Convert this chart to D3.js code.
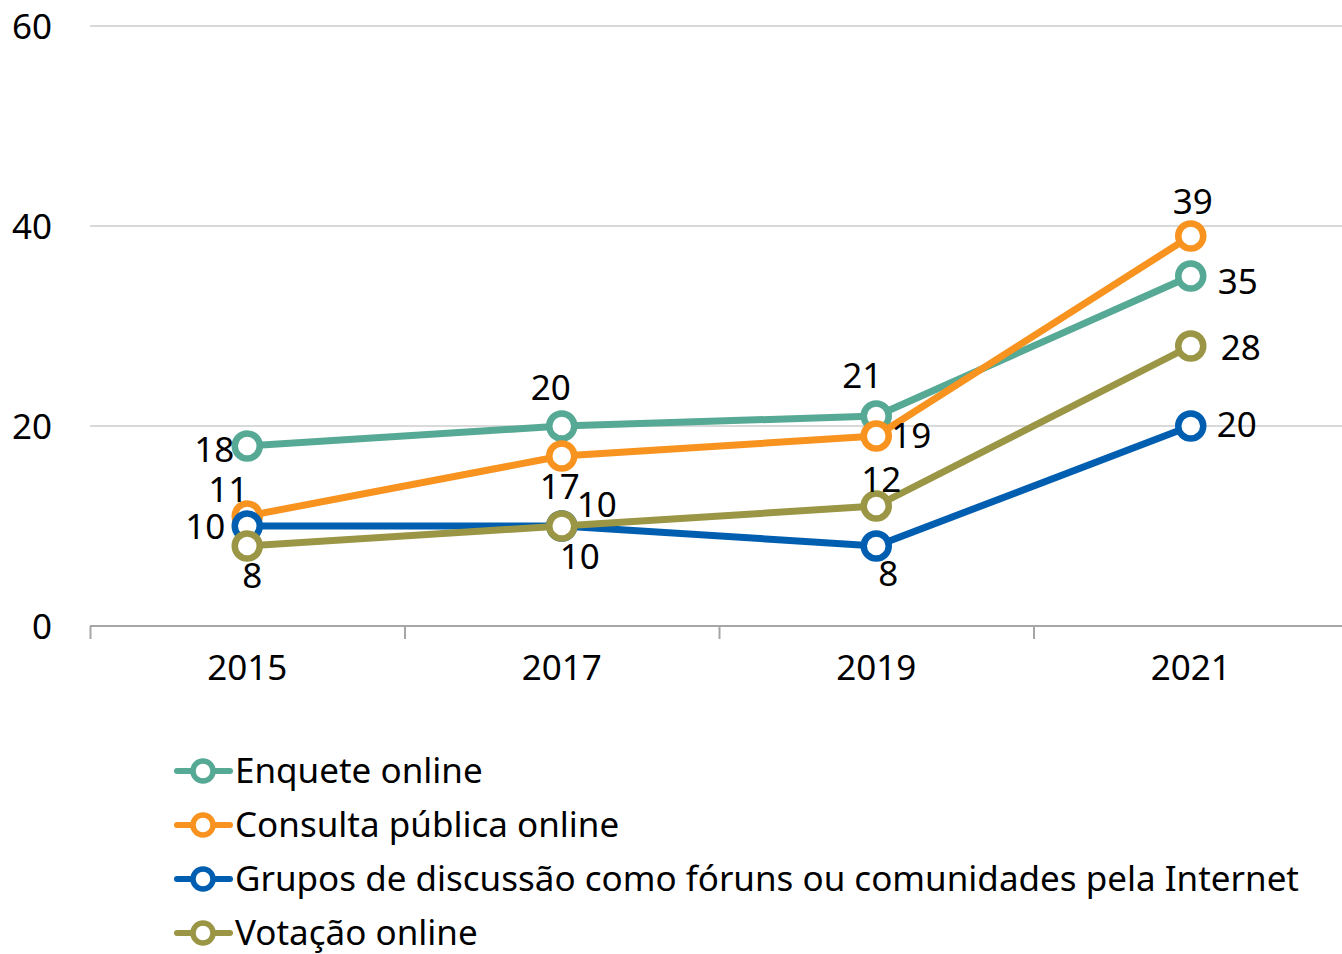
<!DOCTYPE html>
<html>
<head>
<meta charset="utf-8">
<script src="https://cdn.jsdelivr.net/npm/d3@7"></script>
<style>
    body { margin: 0; background: #fff; }
    text { font-family: "Noto Sans", "Open Sans", sans-serif; fill: #000; }
</style>
</head>
<body>
<svg id="canvas"></svg>
<script>
const YEARS = ["2015", "2017", "2019", "2021"];
const SERIES_NAMES = [
    "Enquete online",
    "Consulta pública online",
    "Grupos de discussão como fóruns ou comunidades pela Internet",
    "Votação online"
];
const ENQUETE = [18, 20, 21, 35];
const CONSULTA = [11, 17, 19, 39];
const GRUPOS = [10, 10, 8, 20];
const VOTACAO = [8, 10, 12, 28];
const Y_TICKS = [0, 20, 40, 60];

const COLORS = ["#56a994", "#f7931e", "#005eb0", "#9b9645"];

// label offsets from each point (centre of text)
const LABEL_OFFSETS = [
    [[-33, 4], [-11, -38], [-14, -40], [47, 6]],
    [[-19, -26], [-2, 31], [35, 0], [2, -34]],
    [[-42, 1], [18, 31], [12, 28], [46, -1]],
    [[5, 30], [35, -21], [5, -26], [50, 2]]
];

const width = 1342;
const height = 954;

const series = [ENQUETE, CONSULTA, GRUPOS, VOTACAO].map((values, i) => ({
    name: SERIES_NAMES[i],
    color: COLORS[i],
    values: values,
    offsets: LABEL_OFFSETS[i]
}));

const canvas = d3.select("#canvas")
    .attr("width", width)
    .attr("height", height);

const xScale = d3.scaleBand()
    .domain(YEARS)
    .range([90, 1348]);
const yScale = d3.scaleLinear()
    .domain([0, 60])
    .range([626, 26]);

//Gridlines
canvas.append("g")
    .selectAll("line")
    .data(Y_TICKS.filter(t => t > 0))
    .enter()
    .append("line")
    .attr("x1", 90)
    .attr("x2", width)
    .attr("y1", d => yScale(d))
    .attr("y2", d => yScale(d))
    .attr("stroke", "#d9d9d9")
    .attr("stroke-width", 2);

//Y axis labels
const yAxis = d3.axisLeft(yScale)
    .tickValues(Y_TICKS)
    .tickSize(0)
    .tickPadding(0);
const yAxisG = canvas.append("g")
    .attr("transform", "translate(52, 0)")
    .call(yAxis);
yAxisG.select(".domain").remove();
yAxisG.selectAll("text")
    .style("font-size", "35px")
    .attr("dy", "0.35em");

//X axis
const xAxis = d3.axisBottom(xScale)
    .tickSize(0)
    .tickPadding(29);
const xAxisG = canvas.append("g")
    .attr("transform", `translate(0, ${yScale(0)})`)
    .call(xAxis);
xAxisG.select(".domain").remove();
xAxisG.selectAll("text")
    .style("font-size", "35px");

xAxisG.append("line")
    .attr("x1", 90)
    .attr("x2", 1342)
    .attr("stroke", "#a6a6a6")
    .attr("stroke-width", 2);
const bw = xScale.bandwidth();
xAxisG.selectAll(".sep")
    .data(YEARS)
    .enter()
    .append("line")
    .attr("class", "sep")
    .attr("x1", d => xScale(d) + 0.5)
    .attr("x2", d => xScale(d) + 0.5)
    .attr("y1", 0)
    .attr("y2", 13)
    .attr("stroke", "#a6a6a6")
    .attr("stroke-width", 2);

const xPos = i => xScale(YEARS[i]) + bw / 2;

const line = d3.line()
    .x((d, i) => xPos(i))
    .y(d => yScale(d));

//Lines and markers
const groups = canvas.selectAll(".series")
    .data(series)
    .enter()
    .append("g")
    .attr("class", "series");

groups.append("path")
    .attr("d", d => line(d.values))
    .attr("fill", "none")
    .attr("stroke", d => d.color)
    .attr("stroke-width", 7)
    .attr("stroke-linejoin", "round");

groups.selectAll("circle")
    .data(d => d.values.map(v => ({ v: v, color: d.color })))
    .enter()
    .append("circle")
    .attr("cx", (d, i) => xPos(i))
    .attr("cy", d => yScale(d.v))
    .attr("r", 12.5)
    .attr("fill", "#fff")
    .attr("stroke", d => d.color)
    .attr("stroke-width", 6.5);

//Data labels
canvas.selectAll(".labels")
    .data(series)
    .enter()
    .append("g")
    .selectAll("text")
    .data(d => d.values.map((v, i) => ({ v: v, off: d.offsets[i] })))
    .enter()
    .append("text")
    .attr("x", (d, i) => xPos(i) + d.off[0])
    .attr("y", d => yScale(d.v) + d.off[1])
    .attr("text-anchor", "middle")
    .attr("dy", "0.35em")
    .style("font-size", "35px")
    .text(d => d.v);

//Legend
const legend = canvas.selectAll(".legend")
    .data(series)
    .enter()
    .append("g")
    .attr("class", "legend")
    .attr("transform", (d, i) => `translate(0, ${771 + i * 54})`);

legend.append("line")
    .attr("x1", 177)
    .attr("x2", 230)
    .attr("stroke", d => d.color)
    .attr("stroke-width", 6)
    .attr("stroke-linecap", "round");
legend.append("circle")
    .attr("cx", 203)
    .attr("r", 10)
    .attr("fill", "#fff")
    .attr("stroke", d => d.color)
    .attr("stroke-width", 5.5);
legend.append("text")
    .attr("x", 235)
    .attr("dy", "0.35em")
    .style("font-size", "35px")
    .text(d => d.name);
</script>
</body>
</html>
